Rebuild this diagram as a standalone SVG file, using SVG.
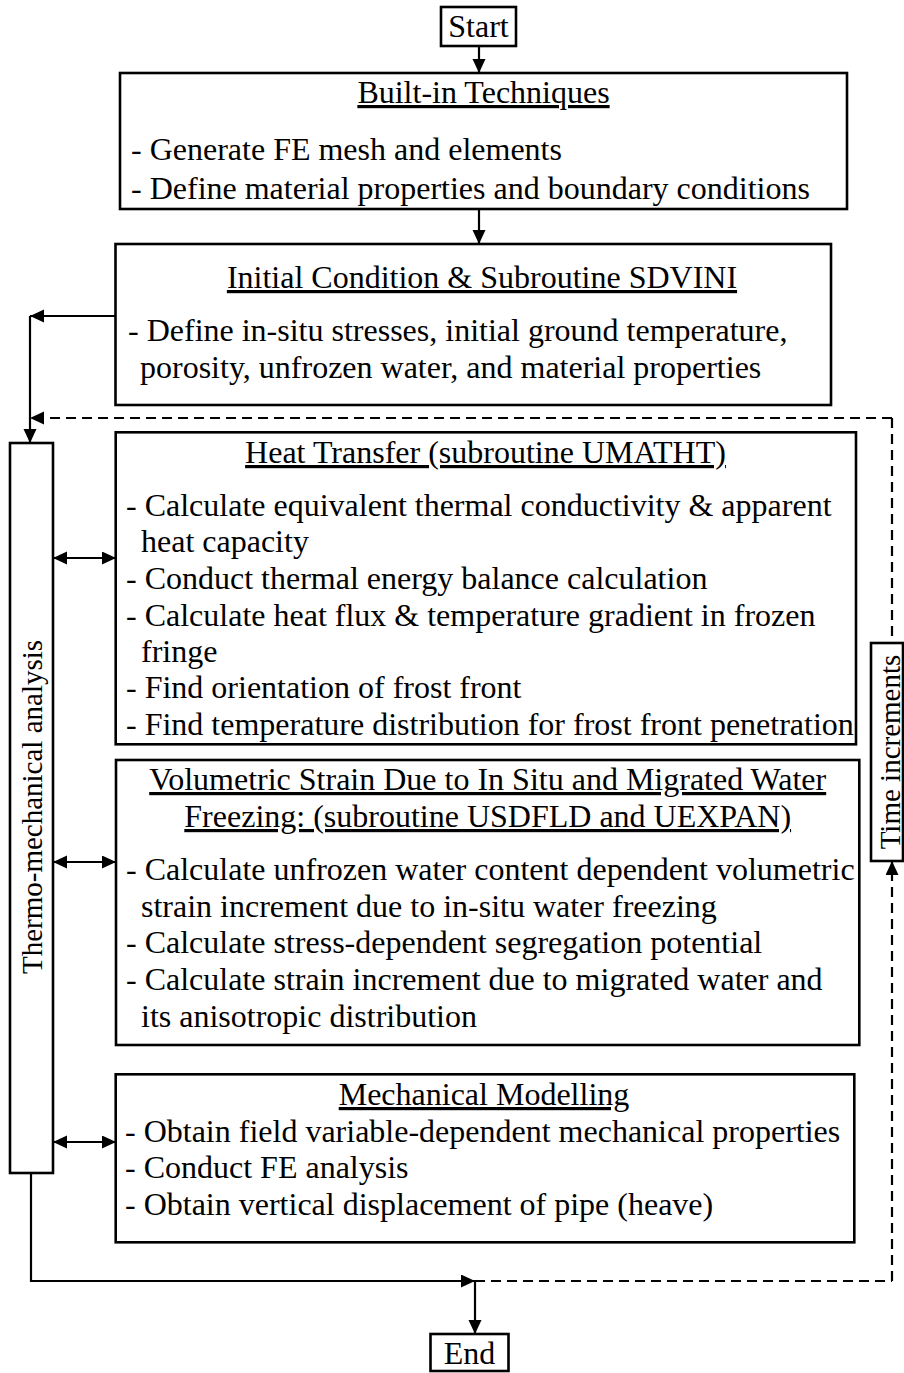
<svg xmlns="http://www.w3.org/2000/svg" width="904" height="1373" viewBox="0 0 904 1373">
<style>
text{font-family:"Liberation Serif","Times New Roman",serif;font-size:32px;fill:#000}
.t{text-anchor:middle;text-decoration:underline}
.c{text-anchor:middle}
.r{font-size:29px;text-anchor:middle}
.box{fill:#fff;stroke:#000;stroke-width:2.6}
.ln{fill:none;stroke:#000;stroke-width:2.2}
.ds{fill:none;stroke:#000;stroke-width:2.2;stroke-dasharray:10 6}
</style>
<defs>
<marker id="ah" markerUnits="userSpaceOnUse" markerWidth="16" markerHeight="14" refX="14" refY="6.5" orient="auto-start-reverse" viewBox="0 0 16 14">
<path d="M0,0 L14,6.5 L0,13 z" fill="#000"/>
</marker>
</defs>
<rect width="904" height="1373" fill="#fff"/>

<g id="connectors">
<line class="ln" x1="479" y1="46" x2="479" y2="73" marker-end="url(#ah)"/>
<line class="ln" x1="479" y1="209" x2="479" y2="244" marker-end="url(#ah)"/>
<line class="ln" x1="115" y1="316" x2="30" y2="316" marker-end="url(#ah)"/>
<line class="ln" x1="30" y1="316" x2="30" y2="443" marker-end="url(#ah)"/>
<line class="ds" x1="892" y1="418" x2="30" y2="418" marker-end="url(#ah)"/>
<line class="ds" x1="892" y1="418" x2="892" y2="643"/>
<line class="ds" x1="892" y1="1281" x2="892" y2="861" marker-end="url(#ah)"/>
<line class="ds" x1="475" y1="1281" x2="892" y2="1281"/>
<line class="ln" x1="53" y1="558" x2="116" y2="558" marker-start="url(#ah)" marker-end="url(#ah)"/>
<line class="ln" x1="53" y1="862" x2="116" y2="862" marker-start="url(#ah)" marker-end="url(#ah)"/>
<line class="ln" x1="53" y1="1142" x2="116" y2="1142" marker-start="url(#ah)" marker-end="url(#ah)"/>
<polyline class="ln" points="31,1173 31,1281 475,1281" marker-end="url(#ah)"/>
<line class="ln" x1="475" y1="1281" x2="475" y2="1334" marker-end="url(#ah)"/>
</g>

<g id="start">
<rect class="box" x="441" y="7" width="75" height="39"/>
<text class="c" x="478.5" y="37">Start</text>
</g>

<g id="builtin">
<rect class="box" x="120" y="73" width="727" height="136"/>
<text class="t" x="483.5" y="103">Built-in Techniques</text>
<text x="131" y="160">- Generate FE mesh and elements</text>
<text x="131" y="199">- Define material properties and boundary conditions</text>
</g>

<g id="initial">
<rect class="box" x="115.5" y="244" width="715.5" height="161"/>
<text class="t" x="482" y="288">Initial Condition &amp; Subroutine SDVINI</text>
<text x="128" y="341">- Define in-situ stresses, initial ground temperature,</text>
<text x="140" y="378">porosity, unfrozen water, and material properties</text>
</g>

<g id="thermo">
<rect class="box" x="10" y="443" width="43" height="730"/>
<text class="r" transform="translate(42,807) rotate(-90)">Thermo-mechanical analysis</text>
</g>

<g id="heat">
<rect class="box" x="115.7" y="432.3" width="740.3" height="312"/>
<text class="t" x="485.5" y="463">Heat Transfer (subroutine UMATHT)</text>
<text x="126" y="516">- Calculate equivalent thermal conductivity &amp; apparent</text>
<text x="141" y="552">heat capacity</text>
<text x="126" y="589">- Conduct thermal energy balance calculation</text>
<text x="126" y="626">- Calculate heat flux &amp; temperature gradient in frozen</text>
<text x="141" y="662">fringe</text>
<text x="126" y="698">- Find orientation of frost front</text>
<text x="126" y="735">- Find temperature distribution for frost front penetration</text>
</g>

<g id="volumetric">
<rect class="box" x="116" y="760" width="743.3" height="285"/>
<text class="t" x="487.7" y="790">Volumetric Strain Due to In Situ and Migrated Water</text>
<text class="t" x="487.7" y="827">Freezing: (subroutine USDFLD and UEXPAN)</text>
<text x="126" y="880">- Calculate unfrozen water content dependent volumetric</text>
<text x="141" y="917">strain increment due to in-situ water freezing</text>
<text x="126" y="953">- Calculate stress-dependent segregation potential</text>
<text x="126" y="990">- Calculate strain increment due to migrated water and</text>
<text x="141" y="1027">its anisotropic distribution</text>
</g>

<g id="mechanical">
<rect class="box" x="115.7" y="1074.3" width="738.6" height="168"/>
<text class="t" x="484" y="1105">Mechanical Modelling</text>
<text x="125" y="1142">- Obtain field variable-dependent mechanical properties</text>
<text x="125" y="1178">- Conduct FE analysis</text>
<text x="125" y="1215">- Obtain vertical displacement of pipe (heave)</text>
</g>

<g id="time">
<rect class="box" x="871" y="643" width="32" height="218"/>
<text class="r" transform="translate(900,752) rotate(-90)">Time increments</text>
</g>

<g id="end">
<rect class="box" x="430.5" y="1334" width="78" height="37"/>
<text class="c" x="469.5" y="1364">End</text>
</g>
</svg>
